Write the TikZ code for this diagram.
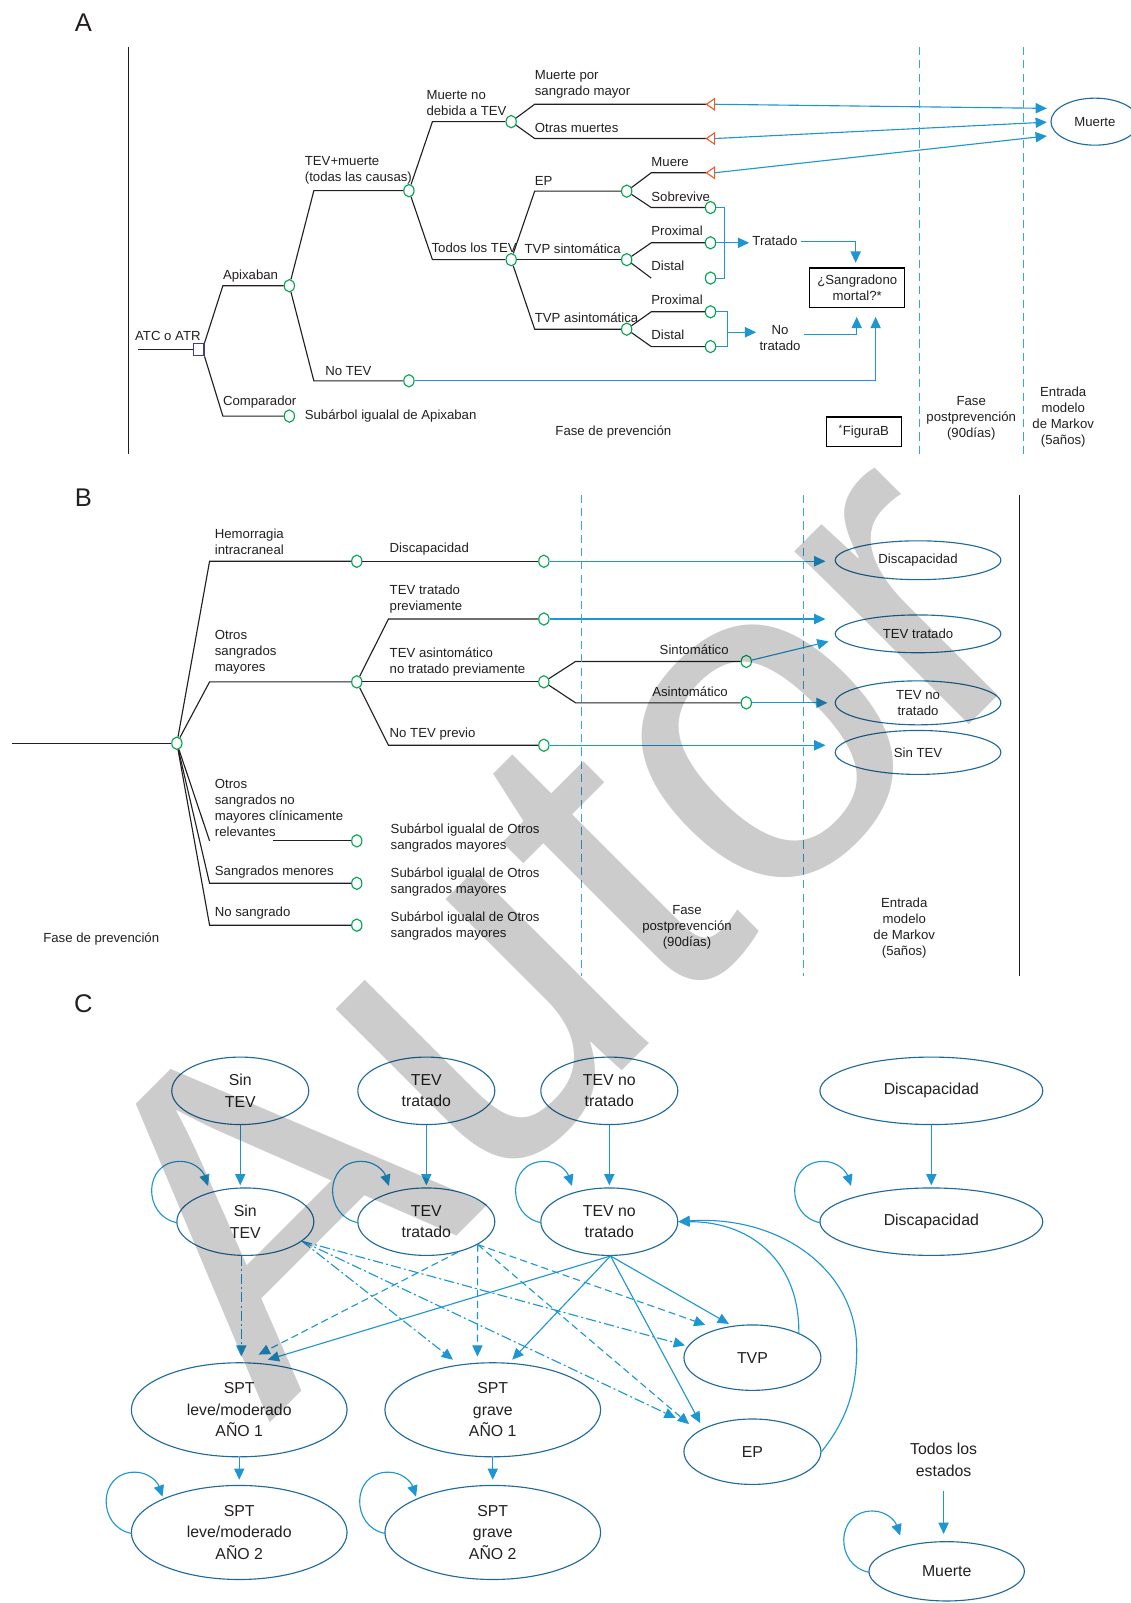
\documentclass[tikz,border=0pt]{standalone}
\usepackage{fontspec}
\setmainfont{Liberation Sans}
\usetikzlibrary{shapes.geometric,arrows.meta,calc}
\definecolor{tline}{HTML}{231F20}
\definecolor{cblue}{HTML}{1E96D2}
\definecolor{eblue}{HTML}{1F6A9C}
\definecolor{dblue}{HTML}{3AA3DA}
\definecolor{cgreen}{HTML}{00A651}
\definecolor{cred}{HTML}{EF5A2A}
\definecolor{cnavy}{HTML}{3B3B98}
\newcommand{\tfA}{\fontsize{12.9}{15.6}\selectfont}
\newcommand{\tfC}{\fontsize{15.5}{21}\selectfont}
\newcommand{\tfH}{\fontsize{25}{28}\selectfont}
\newcommand{\sloop}[1]{\draw[bl,arr] ($(#1.west)+(1,1)$) .. controls ($(#1.west)+(-33,-5)$) and ($(#1.west)+(-33,-59)$) .. ($(#1.west)+(4,-59)$) .. controls ($(#1.west)+(17,-59)$) and ($(#1.west)+(26,-50)$) .. ($(#1.west)+(31,-35)$);}
\begin{document}
\begin{tikzpicture}[x=1pt,y=-1pt,
  tl/.style={draw=tline, line width=1.1pt},
  bl/.style={draw=cblue, line width=1.1pt},
  arr/.style={-{Triangle[length=11pt,width=10pt]}},
  chance/.style={ellipse, draw=cgreen, line width=1.1pt, fill=white, minimum width=10pt, minimum height=12pt, inner sep=0pt},
  lbl/.style={anchor=west, inner sep=0pt, text=tline, font=\tfA, align=left},
  lblc/.style={inner sep=0pt, text=tline, font=\tfA, align=center},
  stB/.style={ellipse, draw=eblue, line width=1.1pt, inner sep=0pt, minimum width=162pt, font=\tfA, text=tline, align=center},
  stC/.style={ellipse, draw=eblue, line width=1.1pt, inner sep=0pt, minimum width=134pt, minimum height=66pt, font=\tfC, text=tline, align=center},
  spt/.style={ellipse, draw=eblue, line width=1.1pt, inner sep=0pt, minimum width=211pt, minimum height=92pt, font=\tfC, text=tline, align=center},
  ddot/.style={dash pattern=on 10pt off 3pt on 2pt off 3pt},
  ddash/.style={dash pattern=on 7pt off 4pt},
  vdash/.style={draw=dblue, line width=1.1pt, dash pattern=on 8pt off 5pt},
  boxx/.style={draw=black, line width=1.3pt, inner sep=0pt, font=\tfA, text=tline, align=center}]
\useasboundingbox (0,0) rectangle (1106,1568);

% ================= Panel A =================
\node[font=\tfH, text=tline] (labA) at (81.5,22) {A};
\draw[tl] (126,46) -- (126,444);
\node[draw=cnavy, line width=1.1pt, minimum width=10pt, minimum height=12pt, inner sep=0pt] (dec) at (194.5,342) {};
\coordinate (atc0) at (135,342);
\draw[tl] (atc0) -- (dec);
\node[lbl] at (132,329) {ATC o ATR};

\node[chance] (apx) at (283,279.5) {};
\node[chance] (cmp) at (283,407) {};
\node[chance] (tevm) at (400,186.5) {};
\node[chance] (notev) at (400,372.5) {};
\node[chance] (mnd) at (500,119) {};
\node[chance] (todos) at (500,254) {};
\node[chance] (ep) at (613,187) {};
\node[chance] (tvps) at (613,254) {};
\node[chance] (tvpa) at (613,322) {};
\node[chance] (sobre) at (695,203) {};
\node[chance] (prox1) at (695,237.5) {};
\node[chance] (dist1) at (695,272) {};
\node[chance] (prox2) at (695,305) {};
\node[chance] (dist2) at (695,339) {};

\coordinate (t1) at (691,102); \coordinate (t1b) at (699,102);
\coordinate (t2) at (691,135.5); \coordinate (t2b) at (699,135.5);
\coordinate (t3) at (691,169); \coordinate (t3b) at (699,169);

\draw[tl] (dec.north east) -- (218,279.5) -- (apx);
\draw[tl] (dec.south east) -- (218,407) -- (cmp);
\draw[tl] (apx) -- (307,186.5) -- (tevm);
\draw[tl] (apx) -- (307,372.5) -- (notev);
\draw[tl] (tevm) -- (423,119) -- (mnd);
\draw[tl] (tevm) -- (423,254) -- (todos);
\draw[tl] (mnd) -- (523,102) -- (t1);
\draw[tl] (mnd) -- (523,135.5) -- (t2);
\draw[tl] (todos) -- (523,187) -- (ep);
\draw[tl] (todos) -- (tvps);
\draw[tl] (todos) -- (523,322) -- (tvpa);
\draw[tl] (ep) -- (637,169) -- (t3);
\draw[tl] (ep) -- (637,203) -- (sobre);
\draw[tl] (tvps) -- (637,237.5) -- (prox1);
\draw[tl] (tvps) -- (637,272);
\draw[tl] (tvpa) -- (637,305) -- (prox2);
\draw[tl] (tvpa) -- (637,339) -- (dist2);

\foreach \t in {t1,t2,t3}{\draw[cred, line width=1.1pt] (\t) -- ++(8,-5.5) -- ++(0,11) -- cycle;}

\node[lbl] at (218,270.5) {Apixaban};
\node[lbl] at (218,393.5) {Comparador};
\node[lbl] at (298,406.5) {Subárbol igualal de Apixaban};
\node[lbl] at (298,166.5) {TEV+muerte\\(todas las causas)};
\node[lbl] at (318,362.5) {No TEV};
\node[lbl] at (417,101) {Muerte no\\debida a TEV};
\node[lbl] at (422,242.5) {Todos los TEV};
\node[lbl] at (523,82.5) {Muerte por\\sangrado mayor};
\node[lbl] at (523,125.5) {Otras muertes};
\node[lbl] at (523,177.5) {EP};
\node[lbl] at (513,243.5) {TVP sintomática};
\node[lbl] at (523,310.5) {TVP asintomática};
\node[lbl] at (637,158.5) {Muere};
\node[lbl] at (637,192.5) {Sobrevive};
\node[lbl] at (637,225.5) {Proximal};
\node[lbl] at (637,259.5) {Distal};
\node[lbl] at (637,293.5) {Proximal};
\node[lbl] at (637,327.5) {Distal};

\node[ellipse, draw=eblue, line width=1.1pt, minimum width=86pt, minimum height=46pt, inner sep=0pt, font=\tfA, text=tline] (mA) at (1071,119) {Muerte};
\coordinate (m1) at (1024,106);
\coordinate (m2) at (1024,119.5);
\coordinate (m3) at (1024,133);
\draw[bl,arr] (t1b) -- (m1);
\draw[bl,arr] (t2b) -- (m2);
\draw[bl,arr] (t3b) -- (m3);

\draw[bl] (sobre) -- (709,203) -- (709,272) -- (dist1);
\node[lblc, inner sep=3pt] (trat) at (758,236) {Tratado};
\draw[bl,arr] (prox1) -- (trat.west |- prox1);
\node[boxx, minimum width=93pt, minimum height=39pt] (sang) at (838.5,281.5) {¿Sangradono\\mortal?*};
\coordinate (tr1) at (837,257);
\draw[bl,arr] (trat.east) -| (tr1);
\draw[bl] (prox2) -- (712,305) -- (712,339) -- (dist2);
\coordinate (brk2) at (712,325);
\node[lblc, inner sep=3pt] (ntr) at (763,331) {No\\tratado};
\draw[bl,arr] (brk2) -- (brk2 -| ntr.west);
\coordinate (ntout) at (786,327.5);
\coordinate (ntin) at (838,310);
\draw[bl,arr] (ntout) -| (ntin);
\coordinate (nvin) at (856.5,310);
\draw[bl,arr] (notev) -| (nvin);

\draw[vdash] (899,46) -- (899,444);
\draw[vdash] (1001,46) -- (1001,444);
\node[lblc] at (600,423) {Fase de prevención};
\node[lblc] at (950,409) {Fase\\postprevención\\(90días)};
\node[lblc] at (1040,408) {Entrada\\modelo\\de Markov\\(5años)};
\node[boxx, minimum width=73.5pt, minimum height=29pt] (figb) at (845,422.5) {\textsuperscript{*}FiguraB};

% ================= Panel B =================
\node[font=\tfH, text=tline] (labB) at (81.5,487) {B};
\node[chance] (rootB) at (173,727) {};
\coordinate (b0) at (12,727);
\draw[tl] (b0) -- (rootB);
\node[chance] (hic) at (349,549) {};
\node[chance] (disc1) at (532,549) {};
\node[chance] (osm) at (349,667) {};
\node[chance] (tevt) at (532,605.5) {};
\node[chance] (tevna) at (532,667) {};
\node[chance] (notevp) at (532,729) {};
\node[chance] (sintC) at (730,647) {};
\node[chance] (asinC) at (730,687.5) {};
\node[chance] (osnm) at (349,822.5) {};
\node[chance] (smen) at (349,864) {};
\node[chance] (nsang) at (349,905) {};

\draw[tl] (rootB) -- (205,549) -- (hic);
\draw[tl] (hic) -- (disc1);
\draw[tl] (rootB) -- (205,667) -- (osm);
\draw[tl] (osm) -- (380,605.5) -- (tevt);
\draw[tl] (osm) -- (tevna);
\draw[tl] (osm) -- (380,729) -- (notevp);
\draw[tl] (tevna) -- (563,647) -- (sintC);
\draw[tl] (tevna) -- (563,687.5) -- (asinC);
\draw[tl] (rootB) -- (205,822.5);
\coordinate (osnm0) at (267,822.5);
\draw[tl] (osnm0) -- (osnm);
\draw[tl] (rootB) -- (205,864) -- (smen);
\draw[tl] (rootB) -- (205,905) -- (nsang);

\node[lbl] at (210,529.5) {Hemorragia\\intracraneal};
\node[lbl] at (381,537.5) {Discapacidad};
\node[lbl] at (210,638) {Otros\\sangrados\\mayores};
\node[lbl] at (381,586) {TEV tratado\\previamente};
\node[lbl] at (381,647.5) {TEV asintomático\\no tratado previamente};
\node[lbl] at (381,718.5) {No TEV previo};
\node[lbl] at (210,790) {Otros\\sangrados no\\mayores clínicamente\\relevantes};
\node[lbl] at (210,853) {Sangrados menores};
\node[lbl] at (210,893.5) {No sangrado};
\node[lbl] at (382,819.5) {Subárbol igualal de Otros\\sangrados mayores};
\node[lbl] at (382,862.5) {Subárbol igualal de Otros\\sangrados mayores};
\node[lbl] at (382,906) {Subárbol igualal de Otros\\sangrados mayores};
\node[lblc] at (679,635.5) {Sintomático};
\node[lblc] at (675,676.5) {Asintomático};
\node[lblc] at (99,918.5) {Fase de prevención};
\node[lblc] at (672,907) {Fase\\postprevención\\(90días)};
\node[lblc] at (884.5,907.5) {Entrada\\modelo\\de Markov\\(5años)};

\node[stB, minimum height=38pt] (disB) at (898,548) {Discapacidad};
\node[stB, minimum height=37pt] (ttB) at (898,620) {TEV tratado};
\node[stB, minimum height=43pt] (tntB) at (898,687.5) {TEV no\\tratado};
\node[stB, minimum height=43pt] (sinB) at (898,736) {Sin TEV};

\draw[bl,arr,shorten >=9pt] (disc1) -- (disc1 -| disB.west);
\draw[bl,arr,shorten >=9pt] (tevt) -- (tevt -| ttB.west);
\draw[bl,arr] (sintC) -- ($(ttB.west)+(-6,7.5)$);
\draw[bl,arr,shorten >=7pt] (asinC) -- (asinC -| tntB.west);
\draw[bl,arr,shorten >=9pt] (notevp) -- (notevp -| sinB.west);

\draw[vdash] (569,484) -- (569,955);
\draw[vdash] (785.7,484) -- (785.7,955);
\draw[tl] (997,484) -- (997,955);

% ================= Panel C =================
\node[font=\tfH, text=tline] (labC) at (81.5,982) {C};
\node[stC] (r1sin) at (235,1067) {Sin\\TEV};
\node[stC] (r1tt) at (417,1067) {TEV\\tratado};
\node[stC] (r1tnt) at (596,1067) {TEV no\\tratado};
\node[stC, minimum width=218pt] (r1dis) at (911,1067) {Discapacidad};
\node[stC] (r2sin) at (240,1195) {Sin\\TEV};
\node[stC] (r2tt) at (417,1195) {TEV\\tratado};
\node[stC] (r2tnt) at (596,1195) {TEV no\\tratado};
\node[stC, minimum width=218pt] (r2dis) at (911,1195) {Discapacidad};
\node[stC, minimum height=64pt] (tvp) at (736,1328) {TVP};
\node[stC, minimum height=64pt] (epC) at (736,1420) {EP};
\node[spt] (spl1) at (234,1379) {SPT\\leve/moderado\\AÑO 1};
\node[spt] (spg1) at (482,1379) {SPT\\grave\\AÑO 1};
\node[spt] (spl2) at (234,1499) {SPT\\leve/moderado\\AÑO 2};
\node[spt] (spg2) at (482,1499) {SPT\\grave\\AÑO 2};
\node[inner sep=0pt, font=\tfC, text=tline, align=center] (tdC) at (923,1428) {Todos los\\estados};
\node[ellipse, draw=eblue, line width=1.1pt, inner sep=0pt, minimum width=152pt, minimum height=58pt, font=\tfC, text=tline] (mC) at (926,1537) {Muerte};

\draw[bl,arr,shorten >=2pt] (r1sin.south) -- (r1sin.south |- r2sin.north);
\draw[bl,arr,shorten >=2pt] (r1tt.south) -- (r1tt.south |- r2tt.north);
\draw[bl,arr,shorten >=2pt] (r1tnt.south) -- (r1tnt.south |- r2tnt.north);
\draw[bl,arr,shorten >=2pt] (r1dis.south) -- (r1dis.south |- r2dis.north);
\draw[bl,arr,shorten >=5pt] (spl1.south) -- (spl2.north);
\draw[bl,arr,shorten >=5pt] (spg1.south) -- (spg2.north);
\draw[bl,arr,shorten >=7pt] ($(tdC.south)+(0,14)$) -- (tdC.south |- mC.north);

\sloop{r2sin}
\sloop{r2tt}
\sloop{r2tnt}
\sloop{r2dis}
\sloop{spl2}
\sloop{spg2}
\sloop{mC}

\coordinate (sS) at (r2sin.-19);
\coordinate (sSv) at (236,1228);
\coordinate (sT) at (r2tt.-24);
\coordinate (sT2) at (r2tt.-44);
\coordinate (sN) at (r2tnt.-88);
\coordinate (tL1) at (236,1327);
\coordinate (tL2) at (253,1325);
\coordinate (tL3) at (262,1330);
\coordinate (tG1) at (443,1330);
\coordinate (tG2) at (467,1327);
\coordinate (tG3) at (501,1330);
\coordinate (tV1) at (670,1316);
\coordinate (tV2) at (690,1296);
\coordinate (tV3) at (713,1295);
\coordinate (tE1) at (661,1387);
\coordinate (tE2) at (674,1393);
\coordinate (tE3) at (685,1392);

\draw[bl,arr,ddot] (sSv) -- (tL1);
\draw[bl,arr,ddot] (sS) -- (tG1);
\draw[bl,arr,ddot] (sS) -- (tV1);
\draw[bl,arr,ddot] (sS) -- (tE1);
\draw[bl,arr,ddash] (sT2) -- (tL2);
\draw[bl,arr,ddash] (sT) -- (tG2);
\draw[bl,arr,ddash] (sT) -- (tV2);
\draw[bl,arr,ddash] (sT) -- (tE2);
\draw[bl,arr] (sN) -- (tL3);
\draw[bl,arr] (sN) -- (tG3);
\draw[bl,arr] (sN) -- (tV3);
\draw[bl,arr] (sN) -- (tE3);

\draw[bl,arr] (tvp.28) .. controls ($(tvp.28)+(1,-64)$) and ($(r2tnt.east)+(77,0)$) .. (r2tnt.east);
\coordinate (epmid) at (838,1320);
\draw[bl,arr] (epC.east) .. controls ($(epC.east)+(24,-30)$) and (838,1360) .. (epmid) .. controls (838,1240) and (760,1188) .. (r2tnt.east);

% ================= watermark =================
\node[rotate=45, text=black, text opacity=0.2, inner sep=0pt, font=\fontsize{455}{455}\selectfont] (wm) at (539,899) {Autor};
\end{tikzpicture}
\end{document}
